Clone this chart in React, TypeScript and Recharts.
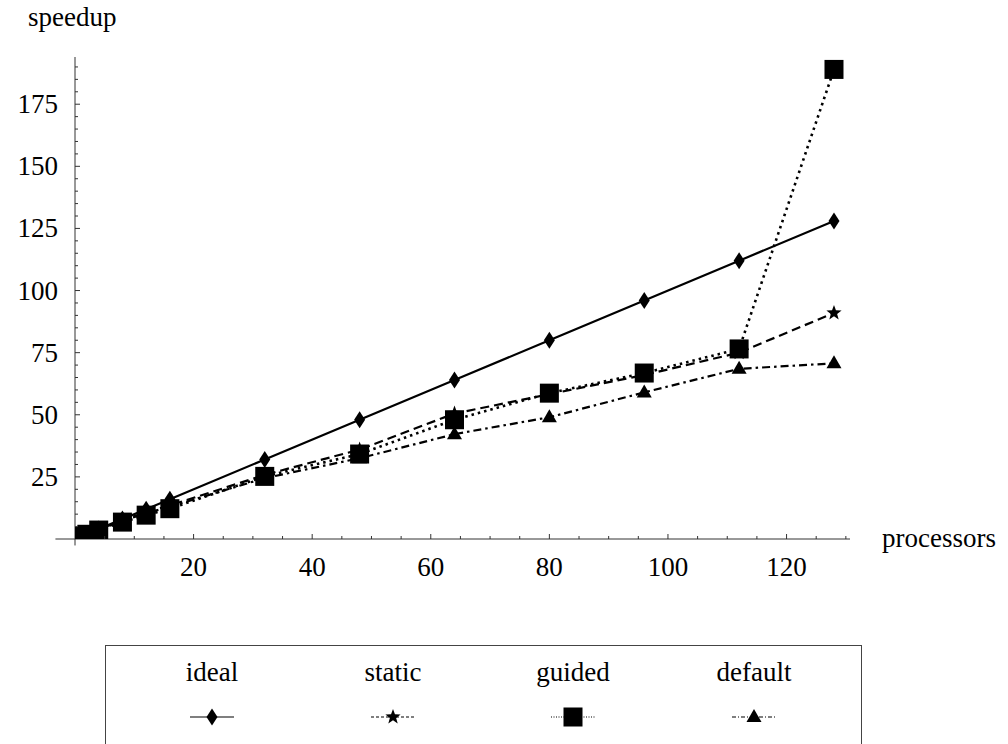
import React from 'react';
import { LineChart, Line, XAxis, YAxis, ReferenceLine } from 'recharts';

// processors vs speedup
const procs = [1, 2, 4, 8, 12, 16, 32, 48, 64, 80, 96, 112, 128];
const idealSpeedup = [1, 2, 4, 8, 12, 16, 32, 48, 64, 80, 96, 112, 128];
const staticSpeedup = [1, 2, 3.9, 7.5, 10.8, 13.5, 25.8, 36, 50.5, 58.3, 66, 75, 91];
const guidedSpeedup = [1, 1.9, 3.6, 6.8, 9.6, 12.2, 25.2, 34.2, 48, 58.7, 66.8, 76.5, 189];
const defaultSpeedup = [1, 2, 3.8, 7.2, 10.4, 13, 24.5, 32.5, 42.2, 49, 59, 68.5, 70.7];

const xTicks = [5, 10, 15, 20, 25, 30, 35, 40, 45, 50, 55, 60, 65, 70, 75, 80, 85, 90, 95, 100, 105, 110, 115, 120, 125, 130];
const yTicks = [5, 10, 15, 20, 25, 30, 35, 40, 45, 50, 55, 60, 65, 70, 75, 80, 85, 90, 95, 100, 105, 110, 115, 120, 125, 130, 135, 140, 145, 150, 155, 160, 165, 170, 175, 180, 185, 190];

const legendNames = ['ideal', 'static', 'guided', 'default'];

const data = procs.map((p, i) => ({
  p,
  ideal: idealSpeedup[i],
  static: staticSpeedup[i],
  guided: guidedSpeedup[i],
  default: defaultSpeedup[i],
}));

const FONT = '"Liberation Serif", "Times New Roman", serif';
const AXIS = '#333';

const starPath = (cx: number, cy: number, R: number, r: number) => {
  let d = '';
  for (let k = 0; k < 10; k++) {
    const rad = k % 2 === 0 ? R : r;
    const a = -Math.PI / 2 + (k * Math.PI) / 5;
    d += (k === 0 ? 'M' : 'L') + (cx + rad * Math.cos(a)).toFixed(2) + ',' + (cy + rad * Math.sin(a)).toFixed(2);
  }
  return d + 'Z';
};

const Marker = ({ kind, cx, cy }: { kind: string; cx: number; cy: number }) => {
  if (kind === 'ideal')
    return <path d={`M${cx},${cy - 8.5}L${cx + 5.5},${cy}L${cx},${cy + 8.5}L${cx - 5.5},${cy}Z`} fill="#000" />;
  if (kind === 'static') return <path d={starPath(cx, cy, 8, 3.3)} fill="#000" />;
  if (kind === 'guided') return <rect x={cx - 9.5} y={cy - 9.5} width={19} height={19} fill="#000" />;
  return <path d={`M${cx},${cy - 8}L${cx + 7.5},${cy + 5}L${cx - 7.5},${cy + 5}Z`} fill="#000" />;
};

const dotFor = (kind: string) => (props: any) => (
  <Marker key={`${kind}-${props.index}`} kind={kind} cx={props.cx} cy={props.cy} />
);

const XTick = (props: any) => {
  const { x, y, payload } = props;
  const major = payload.value % 20 === 0;
  return (
    <g>
      <line x1={x} x2={x} y1={y} y2={y - (major ? 5 : 3)} stroke={AXIS} />
      {major && (
        <text x={x} y={y + 37} textAnchor="middle" fontSize={27} fontFamily={FONT} fill="#000">
          {payload.value}
        </text>
      )}
    </g>
  );
};

const YTick = (props: any) => {
  const { x, y, payload } = props;
  const major = payload.value % 25 === 0;
  return (
    <g>
      <line x1={x} x2={x + (major ? 5 : 3)} y1={y} y2={y} stroke={AXIS} />
      {major && (
        <text x={x - 17} y={y + 9} textAnchor="end" fontSize={27} fontFamily={FONT} fill="#000">
          {payload.value}
        </text>
      )}
    </g>
  );
};

const series = [
  { key: 'ideal', dash: undefined, width: 2.2 },
  { key: 'static', dash: '9 5', width: 2.2 },
  { key: 'guided', dash: '2.5 4', width: 2.6 },
  { key: 'default', dash: '8 4 2.5 4', width: 2.2 },
];

const legendDash: Record<string, string | undefined> = {
  ideal: undefined,
  static: '3 2',
  guided: '1 1.5',
  default: '4 2 1 2',
};

const legendCenters = [212, 393, 573, 754];

export default function App() {
  return (
    <div style={{ position: 'fixed', left: 0, top: 0, width: 1008, height: 744, overflow: 'hidden', background: '#fff', fontFamily: FONT }}>
      <LineChart width={1008} height={744} data={data} margin={{ top: 57, right: 158, left: 0, bottom: 175 }}>
        <XAxis
          type="number"
          dataKey="p"
          domain={[0, 130.7]}
          ticks={xTicks}
          interval={0}
          tickSize={0}
          tickMargin={0}
          tickLine={false}
          height={30}
          axisLine={{ stroke: AXIS }}
          tick={(p: any) => <XTick {...p} />}
          allowDataOverflow
        />
        <YAxis
          type="number"
          domain={[0, 194]}
          ticks={yTicks}
          interval={0}
          tickSize={0}
          tickMargin={0}
          tickLine={false}
          width={75}
          axisLine={{ stroke: AXIS }}
          tick={(p: any) => <YTick {...p} />}
          allowDataOverflow
        />
        <ReferenceLine segment={[{ x: -3.3, y: 0 }, { x: 0, y: 0 }]} stroke={AXIS} ifOverflow="visible" />
        <ReferenceLine segment={[{ x: 0, y: -2.6 }, { x: 0, y: 0 }]} stroke={AXIS} ifOverflow="visible" />
        {series.map((s) => (
          <Line
            key={s.key}
            type="linear"
            dataKey={s.key}
            stroke="#000"
            strokeWidth={s.width}
            strokeDasharray={s.dash}
            dot={dotFor(s.key)}
            activeDot={false}
            isAnimationActive={false}
          />
        ))}
      </LineChart>

      <div style={{ position: 'absolute', left: 28, top: 4, fontSize: 27, lineHeight: '27px' }}>speedup</div>
      <div style={{ position: 'absolute', left: 882, top: 525, fontSize: 27, lineHeight: '27px' }}>processors</div>

      <div
        style={{
          position: 'absolute',
          left: 105,
          top: 645,
          width: 757,
          height: 130,
          border: '1px solid #444',
          boxSizing: 'border-box',
        }}
      />
      {legendNames.map((name, i) => (
        <div key={name} style={{ position: 'absolute', left: legendCenters[i] - 90, top: 659, width: 180 }}>
          <div style={{ textAlign: 'center', fontSize: 27, lineHeight: '27px' }}>{name}</div>
          <svg width={180} height={30} style={{ position: 'absolute', left: 0, top: 43 }}>
            <line x1={68} x2={112} y1={15} y2={15} stroke="#000" strokeWidth={1.2} strokeDasharray={legendDash[name]} />
            <Marker kind={name} cx={90} cy={15} />
          </svg>
        </div>
      ))}
    </div>
  );
}
